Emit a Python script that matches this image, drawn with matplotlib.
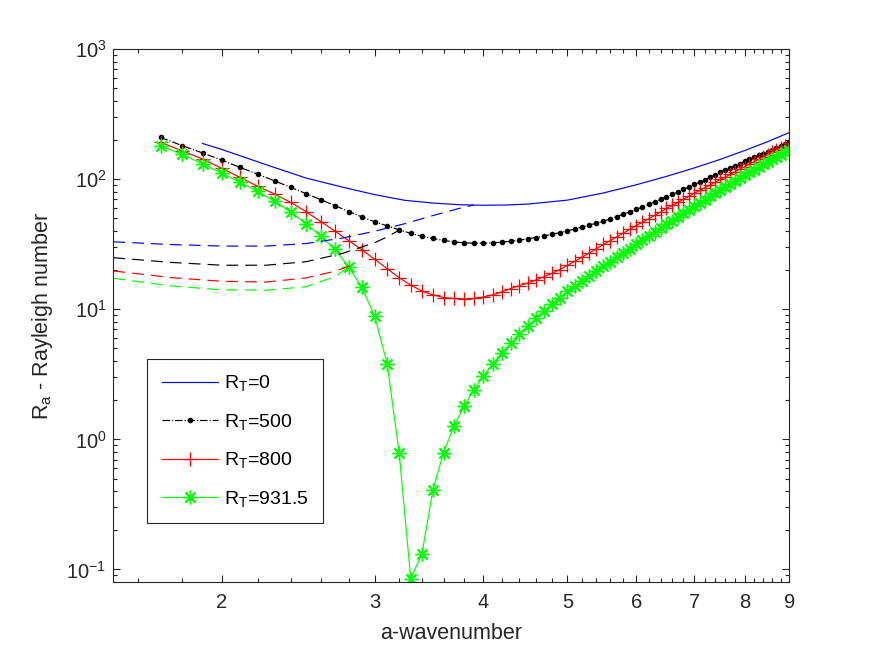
import numpy as np
import matplotlib
matplotlib.use('Agg')
import matplotlib.pyplot as plt
from matplotlib.ticker import FixedLocator, NullFormatter, LogLocator

plt.rcParams['font.family'] = ['Liberation Sans', 'DejaVu Sans']
plt.rcParams['mathtext.fontset'] = 'custom'
plt.rcParams['mathtext.rm'] = 'Liberation Sans'
plt.rcParams['mathtext.it'] = 'Liberation Sans:italic'
plt.rcParams['mathtext.default'] = 'regular'

# wavenumber grid of the marker curves (step 0.1 from 1.7 to 9)
a_grid = np.round(np.arange(1.7, 9.05, 0.1), 1)

ra_500 = [209, 181, 159, 140, 123, 109, 97, 86.5, 77.5, 69.5,
          62.6, 56.3, 51.2, 47.0, 43.8, 40.8, 38.3, 36.4, 35.0, 33.8,
          32.9, 32.4, 32.2, 32.2, 32.4, 32.8, 33.3, 34.0, 34.8, 35.6,
          36.6, 37.7, 38.8, 40.0, 41.4, 42.9, 44.4, 45.9, 47.5, 49.5,
          51.6, 53.8, 56.1, 58.5, 61.1, 63.9, 66.8, 69.8, 73.0, 76.3,
          79.7, 83.3, 87.1, 91.0, 95.0, 99.2, 103.6, 108.2, 113, 117.4,
          122, 126.8, 131.8, 137, 141.8, 146.8, 152, 157.4, 163, 168.4,
          174, 179.8, 185.8, 192]

ra_800 = [192, 165, 143, 121, 103, 88, 76.8, 66.3, 56.3, 47.2,
          39.8, 33.7, 28.6, 24.2, 20.5, 17.5, 15.3, 13.8, 12.9, 12.3,
          12.1, 12.0, 12.1, 12.4, 12.9, 13.6, 14.4, 15.2, 15.9, 16.8,
          17.8, 18.9, 20.2, 21.7, 23.4, 25.2, 27.1, 29.2, 31.5, 33.7,
          36.0, 38.5, 41.2, 44.0, 46.7, 49.6, 52.7, 56.0, 59.5, 62.8,
          66.3, 70.0, 73.9, 78, 81.9, 86.0, 90.3, 94.8, 99.5, 104.1,
          109, 114.1, 119.4, 125, 130.3, 135.9, 141.7, 147.7, 154, 160.3,
          166.8, 173.6, 180.7, 188]

ra_931 = [181, 155, 131, 111, 94.4, 80.5, 67.5, 55.9, 45.3, 36.5,
          28.8, 21.1, 14.7, 8.8, 3.8, 0.79, 0.085, 0.132, 0.41, 0.79,
          1.26, 1.79, 2.40, 3.05, 3.80, 4.61, 5.46, 6.40, 7.42, 8.55,
          9.72, 10.9, 12.3, 13.8, 15.1, 16.5, 18.0, 19.7, 21.5, 23.2,
          25.0, 27.0, 29.2, 31.5, 33.8, 36.3, 39.0, 41.9, 45.0, 48.0,
          51.2, 54.5, 58.1, 62, 65.7, 69.7, 73.9, 78.3, 83, 87.5,
          92.2, 97.2, 102.5, 108, 113.1, 118.4, 124, 129.9, 136, 141.9,
          148, 154.4, 161, 168]

# R_T = 0, stationary branch
a_0 = [1.9, 2.0, 2.25, 2.5, 2.75, 3.0, 3.25, 3.5, 3.75, 4.0, 4.25,
       4.5, 5.0, 5.5, 6.0, 6.5, 7.0, 7.5, 8.0, 8.5, 9.0]
ra_0 = [188, 169, 129, 102, 87, 76, 68.7, 65.5, 63.6, 63.0, 63.3,
        64.3, 69.0, 78.3, 90.5, 105, 122, 142, 166, 194, 228]

# dashed (oscillatory) branches
a_0_osc = [1.5, 1.75, 2.0, 2.25, 2.5, 2.75, 3.0, 3.25, 3.5, 3.75, 3.9]
ra_0_osc = [33.0, 31.4, 30.6, 30.6, 32.0, 35.2, 39.8, 45.5, 52.5, 59.5, 63.3]
a_500_osc = [1.5, 1.75, 2.0, 2.25, 2.5, 2.75, 3.0, 3.1, 3.2]
ra_500_osc = [24.9, 22.9, 21.8, 21.8, 23.2, 26.8, 32.5, 36.0, 40.5]
a_800_osc = [1.5, 1.75, 2.0, 2.25, 2.5, 2.7, 2.82]
ra_800_osc = [19.7, 17.5, 16.4, 16.2, 17.4, 19.6, 21.8]
a_931_osc = [1.5, 1.75, 2.0, 2.25, 2.5, 2.7, 2.8]
ra_931_osc = [17.3, 15.1, 14.1, 14.0, 14.9, 17.8, 21.1]

x_ticks = [2, 3, 4, 5, 6, 7, 8, 9]
x_minor = [v for v in np.round(np.arange(1.6, 9.0, 0.2), 1) if v % 1 != 0]

fig = plt.figure(figsize=(8.72, 6.54), dpi=100)
ax = fig.add_axes([0.13, 0.11, 0.775, 0.815])

lw = 0.85
ax.plot(a_0, ra_0, color='blue', lw=lw, label=r'R$_{T}$=0')
ax.plot(a_grid, ra_500, color='black', lw=lw, linestyle='-.', marker='.',
        markersize=6, label=r'R$_{T}$=500')
ax.plot(a_grid, ra_800, color='red', lw=lw, marker='+', markersize=10,
        markeredgewidth=0.9, label=r'R$_{T}$=800')
ax.plot(a_grid, ra_931, color=(0, 1, 0), lw=lw, marker=(8, 2, 0), markersize=10,
        markeredgewidth=1.0, label=r'R$_{T}$=931.5')

dash = (0, (10, 6))
ax.plot(a_0_osc, ra_0_osc, color='blue', lw=lw, linestyle=dash)
ax.plot(a_500_osc, ra_500_osc, color='black', lw=lw, linestyle=dash)
ax.plot(a_800_osc, ra_800_osc, color='red', lw=lw, linestyle=dash)
ax.plot(a_931_osc, ra_931_osc, color=(0, 1, 0), lw=lw, linestyle=dash)

ax.set_xscale('log')
ax.set_yscale('log')
ax.set_xlim(1.5, 9)
ax.set_ylim(0.08, 1000)

ax.xaxis.set_major_locator(FixedLocator(x_ticks))
ax.xaxis.set_minor_locator(FixedLocator(x_minor))
ax.set_xticklabels([str(t) for t in x_ticks])
ax.xaxis.set_minor_formatter(NullFormatter())
ax.yaxis.set_major_locator(LogLocator(base=10, numticks=20))
ax.yaxis.set_minor_locator(LogLocator(base=10, subs=np.arange(2, 10), numticks=20))

dark = '#262626'
ax.tick_params(which='both', direction='in', top=True, right=True,
               color=dark, labelcolor=dark, width=0.8)
ax.tick_params(which='major', length=5, labelsize=14.5)
ax.tick_params(which='minor', length=3)
ax.tick_params(axis='x', which='major', pad=8)
ax.tick_params(axis='y', which='major', pad=5)
for sp in ax.spines.values():
    sp.set_color(dark)
    sp.set_linewidth(0.8)

ax.set_xlabel('a-wavenumber', fontsize=15.5, color=dark, labelpad=8)
ax.set_ylabel(r'R$_{a}$ - Rayleigh number', fontsize=15.5, color=dark, labelpad=8)

leg = ax.legend(loc='lower left', bbox_to_anchor=(0.05, 0.11), borderaxespad=0,
                fontsize=14, numpoints=1, fancybox=False, framealpha=1,
                edgecolor=dark, handlelength=2.9, handletextpad=0.3,
                labelspacing=0.95, borderpad=0.75)
leg.get_frame().set_linewidth(0.8)

fig.savefig('out.png', dpi=100, facecolor='white')
